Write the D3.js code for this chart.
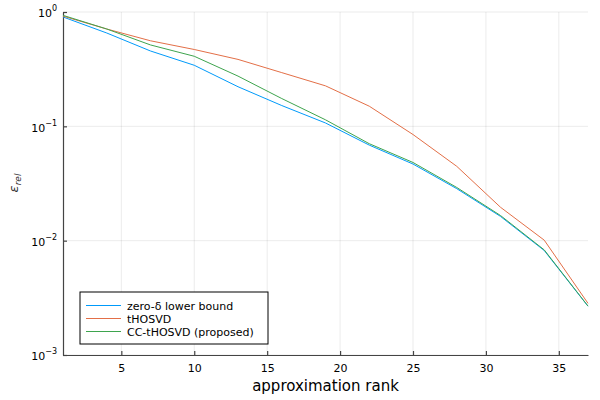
<!DOCTYPE html>
<html>
<head>
<meta charset="utf-8">
<script src="https://cdn.jsdelivr.net/npm/d3@7"></script>
<style>
body { margin: 0; background: #fff; }
text { font-family: "DejaVu Sans", sans-serif; }
</style>
</head>
<body>
<div id="chart"></div>
<script>
// approximation ranks
const ranks = [1, 4, 7, 10, 13, 16, 19, 22, 25, 28, 31, 34, 37]
// relative errors per method
const lowerBound = [0.905, 0.655, 0.456, 0.342, 0.222, 0.152, 0.107, 0.0685, 0.0468, 0.0285, 0.0163, 0.0082, 0.00267]
const thosvd = [0.92, 0.71, 0.56, 0.47, 0.385, 0.295, 0.226, 0.150, 0.0848, 0.0447, 0.0196, 0.0101, 0.00283]
const ccThosvd = [0.935, 0.71, 0.515, 0.41, 0.275, 0.175, 0.114, 0.0705, 0.0483, 0.0292, 0.0166, 0.0083, 0.00268]
const seriesNames = ["zero-δ lower bound", "tHOSVD", "CC-tHOSVD (proposed)"]
const seriesColors = ["#009afa", "#e36f47", "#3ea44e"]
const xTicks = [5, 10, 15, 20, 25, 30, 35]
const yTicks = [1e-3, 1e-2, 1e-1, 1]

const W = 600, H = 400
const margin = { top: 12, right: 12, bottom: 45, left: 63 }
const width = W - margin.left - margin.right
const height = H - margin.top - margin.bottom

const svg = d3.select("#chart").append("svg")
    .attr("width", W)
    .attr("height", H)
const g = svg.append("g")
    .attr("transform", `translate(${margin.left},${margin.top})`)

const x = d3.scaleLinear().domain([1, 37]).range([0, width])
const y = d3.scaleLog().domain([1e-3, 1]).range([height, 0])

// grid
g.append("g").selectAll("line")
    .data(xTicks)
    .enter().append("line")
    .attr("x1", d => x(d)).attr("x2", d => x(d))
    .attr("y1", 0).attr("y2", height)
    .attr("stroke", "#000").attr("stroke-opacity", 0.08)
g.append("g").selectAll("line")
    .data(yTicks)
    .enter().append("line")
    .attr("x1", 0).attr("x2", width)
    .attr("y1", d => y(d)).attr("y2", d => y(d))
    .attr("stroke", "#000").attr("stroke-opacity", 0.08)

// axes
const xAxis = g.append("g")
    .attr("transform", `translate(0,${height})`)
    .call(d3.axisBottom(x).tickValues(xTicks).tickSizeInner(-4).tickSizeOuter(0).tickPadding(9))
const yAxis = g.append("g")
    .call(d3.axisLeft(y).tickValues(yTicks).tickSizeInner(-4).tickSizeOuter(0).tickPadding(8).tickFormat(() => ""))
;[xAxis, yAxis].forEach(a => {
    a.select(".domain").attr("stroke", "#444").attr("stroke-width", 1.2)
    a.selectAll(".tick line").attr("stroke", "#444").attr("stroke-width", 1.2)
    a.selectAll("text").attr("font-size", 11).attr("fill", "#000")
})

// power-of-ten labels
yAxis.selectAll(".tick").each(function (d) {
    const t = d3.select(this).select("text")
    t.attr("x", -6).attr("dy", "0.45em")
    t.append("tspan").text("10")
    t.append("tspan").attr("font-size", 8).attr("dy", "-0.75em").text(Math.round(Math.log10(d)) === 0 ? "0" : "−" + (-Math.round(Math.log10(d))))
})

// lines
const allSeries = [lowerBound, thosvd, ccThosvd]
const line = d3.line()
    .x((d, i) => x(ranks[i]))
    .y(d => y(d))
allSeries.forEach((s, i) => {
    g.append("path")
        .datum(s)
        .attr("fill", "none")
        .attr("stroke", seriesColors[i])
        .attr("stroke-width", 1)
        .attr("d", line)
})

// axis labels
svg.append("text")
    .attr("x", margin.left + width / 2)
    .attr("y", 391)
    .attr("text-anchor", "middle")
    .attr("font-size", 15)
    .text("approximation rank")

const yl = svg.append("text")
    .attr("transform", "translate(18,183) rotate(-90)")
    .attr("text-anchor", "middle")
    .attr("font-family", "DejaVu Serif, serif")
    .attr("font-style", "italic")
    .attr("font-size", 13)
    .attr("fill", "#333")
yl.append("tspan").text("ε")
yl.append("tspan").attr("font-size", 9).attr("dy", "0.35em").text("rel")

// legend
const legend = svg.append("g").attr("transform", "translate(80,292)")
legend.append("rect")
    .attr("width", 188).attr("height", 52)
    .attr("fill", "#fff").attr("stroke", "#000").attr("stroke-width", 1)
seriesNames.forEach((name, i) => {
    const row = legend.append("g").attr("transform", `translate(0,${13.5 + i * 13})`)
    row.append("line")
        .attr("x1", 6).attr("x2", 41)
        .attr("stroke", seriesColors[i]).attr("stroke-width", 1)
    row.append("text")
        .attr("x", 47).attr("y", 4)
        .attr("font-size", 11)
        .text(name)
})
</script>
</body>
</html>
